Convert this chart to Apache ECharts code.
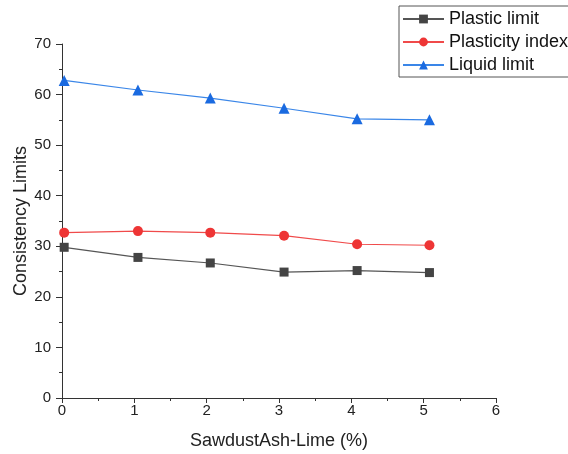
<!DOCTYPE html>
<html>
<head>
<meta charset="utf-8">
<script src="https://cdn.jsdelivr.net/npm/echarts@6/dist/echarts.min.js"></script>
<style>
html,body{margin:0;padding:0;background:#fff;}
#chart{width:568px;height:454px;}
</style>
</head>
<body>
<div id="chart"></div>
<script>
const xValues = [0.03, 1.05, 2.05, 3.07, 4.08, 5.08];
const plasticLimit = [29.8, 27.8, 26.7, 24.9, 25.2, 24.8];
const plasticityIndex = [32.7, 33.0, 32.7, 32.1, 30.4, 30.2];
const liquidLimit = [62.8, 60.9, 59.3, 57.3, 55.2, 55.0];
const seriesNames = ['Plastic limit', 'Plasticity index', 'Liquid limit'];
const xTicks = [0, 1, 2, 3, 4, 5, 6];
const yTicks = [0, 10, 20, 30, 40, 50, 60, 70];

const pairs = arr => arr.map((v, i) => [xValues[i], v]);
const font = '"Liberation Sans", Arial, sans-serif';

const chart = echarts.init(document.getElementById('chart'), null, {renderer: 'canvas'});
chart.setOption({
  animation: false,
  backgroundColor: '#fff',
  grid: {left: 62, right: 72, top: 44, bottom: 56, containLabel: false, outerBoundsMode: 'none'},
  legend: {
    orient: 'vertical',
    left: 399,
    top: 6,
    padding: [4, 8, 3, 3],
    itemGap: 5,
    itemWidth: 41,
    itemHeight: 11,
    borderColor: '#555',
    borderWidth: 1,
    backgroundColor: '#fff',
    textStyle: {fontFamily: font, fontSize: 18, color: '#111', lineHeight: 17.5},
    data: seriesNames
  },
  xAxis: {
    type: 'value',
    min: xTicks[0], max: xTicks[xTicks.length - 1], interval: 1,
    name: 'SawdustAsh-Lime (%)',
    nameLocation: 'middle',
    nameGap: 34,
    nameTextStyle: {fontFamily: font, fontSize: 18, color: '#222'},
    axisLine: {onZero: false, lineStyle: {color: '#333', width: 1}},
    axisTick: {show: true, inside: false, length: 5, lineStyle: {color: '#333'}},
    minorTick: {show: true, splitNumber: 2, length: 3, lineStyle: {color: '#333'}},
    axisLabel: {fontFamily: font, fontSize: 15, color: '#222', margin: 5},
    splitLine: {show: false}
  },
  yAxis: {
    type: 'value',
    min: yTicks[0], max: yTicks[yTicks.length - 1], interval: 10,
    name: 'Consistency Limits',
    nameLocation: 'middle',
    nameGap: 32,
    nameMoveOverlap: false,
    nameTextStyle: {fontFamily: font, fontSize: 18, color: '#222'},
    axisLine: {show: true, onZero: false, lineStyle: {color: '#333', width: 1}},
    axisTick: {show: true, inside: false, length: 6, lineStyle: {color: '#333'}},
    minorTick: {show: true, splitNumber: 2, length: 3, lineStyle: {color: '#333'}},
    axisLabel: {fontFamily: font, fontSize: 15, color: '#222', margin: 11},
    splitLine: {show: false}
  },
  series: [
    {
      name: seriesNames[0], type: 'line', data: pairs(plasticLimit),
      symbol: 'rect', symbolSize: 9, clip: false,
      lineStyle: {color: '#555', width: 1.2},
      itemStyle: {color: '#444'}
    },
    {
      name: seriesNames[1], type: 'line', data: pairs(plasticityIndex),
      symbol: 'circle', symbolSize: 10, clip: false,
      lineStyle: {color: '#F04a4a', width: 1.2},
      itemStyle: {color: '#EE3535'}
    },
    {
      name: seriesNames[2], type: 'line', data: pairs(liquidLimit),
      symbol: 'triangle', symbolSize: 11, clip: false,
      lineStyle: {color: '#3A86E8', width: 1.2},
      itemStyle: {color: '#1A6AE0'}
    }
  ]
});
</script>
</body>
</html>
